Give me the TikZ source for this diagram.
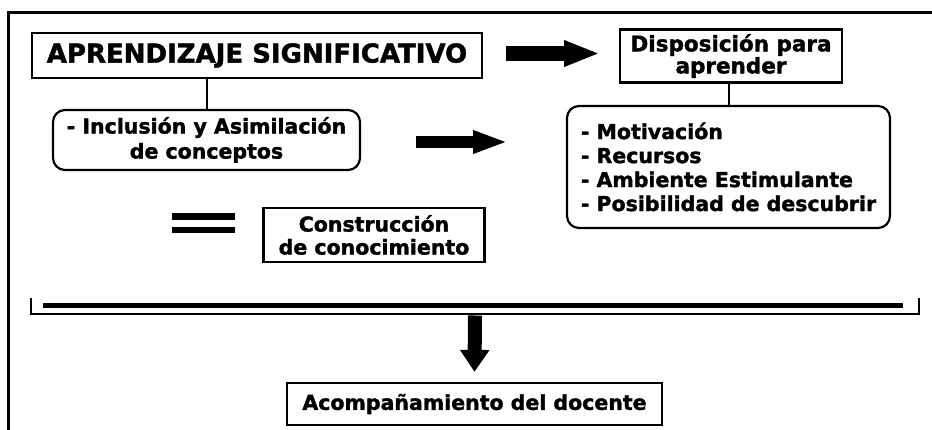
\documentclass[tikz,border=0pt]{standalone}
\usepackage{fontspec}
\setmainfont{DejaVu Sans}[BoldFeatures={FakeBold=1.6}]
\usetikzlibrary{arrows.meta,calc}

\begin{document}
\begin{tikzpicture}[
    x=1pt, y=-1pt,
    font=\bfseries\fontsize{20.5}{24}\selectfont,
    box/.style={draw, line width=2.2pt, align=center, inner sep=0pt},
    roundbox/.style={box, rounded corners=12pt},
    link/.style={line width=2pt},
    bar/.style={line width=5pt},
    bigarrow/.style={-{Triangle[length=36pt, width=24pt]}, line width=15pt}
]
\useasboundingbox (0,0) rectangle (932,430);

% Frame.
\draw[line width=3pt] (8,430) -- (8,12.5) -- (932,12.5);

% Top row.
\node[box, minimum width=450pt, minimum height=45pt, font=\bfseries\fontsize{26}{30}\selectfont]
    (title) at (257,55.5) {APRENDIZAJE SIGNIFICATIVO};
\node[box, minimum width=222pt, minimum height=53pt, font=\bfseries\fontsize{21.5}{22}\selectfont]
    (disp) at (731,56) {Disposición para\\aprender};
\coordinate (a1s) at (506,53.5);
\coordinate (a1e) at (600,53.5);
\draw[bigarrow] (a1s) -- (a1e);

% Second row.
\node[roundbox, minimum width=307pt, minimum height=60pt, font=\bfseries\fontsize{20.5}{25}\selectfont]
    (incl) at (206.5,140) {- Inclusión y Asimilación\\de conceptos};
\node[roundbox, minimum width=323pt, minimum height=122pt, align=left]
    (lista) at (728.5,167) {- Motivación\\- Recursos\\- Ambiente Estimulante\\- Posibilidad de descubrir};
\draw[link] (incl.north |- title.south) -- (incl.north);
\draw[link] (lista.north |- disp.south) -- (lista.north);
\coordinate (a2s) at (416,142);
\coordinate (a2e) at (508,142);
\draw[-{Triangle[length=35pt, width=21pt]}, line width=12pt] (a2s) -- (a2e);

% Equals sign.
\coordinate (eq1) at (172,216.5);
\coordinate (eq2) at (172,230);
\draw[line width=7pt] (eq1) -- ++(63,0);
\draw[line width=6.5pt] (eq2) -- ++(63,0);
\node[box, minimum width=221pt, minimum height=54pt, font=\bfseries\fontsize{20.5}{23}\selectfont]
    (constr) at (374,235) {Construcción\\de conocimiento};

% Bracket.
\coordinate (brL) at (31,298);
\coordinate (brR) at (919,298);
\draw[bar] (43,305.5) -- (903,305.5);
\draw[link] (brL) -- (31,314.5) -- (919,314.5) -- (brR);

% Bottom.
\node[box, minimum width=375pt, minimum height=42pt]
    (acomp) at (474.5,404) {Acompañamiento del docente};
\coordinate (a3s) at (475,315.5);
\draw[-{Triangle[length=22pt, width=28pt]}, line width=14pt] (a3s) -- ($(acomp.north)+(0,-10)$);

\end{tikzpicture}
\end{document}
